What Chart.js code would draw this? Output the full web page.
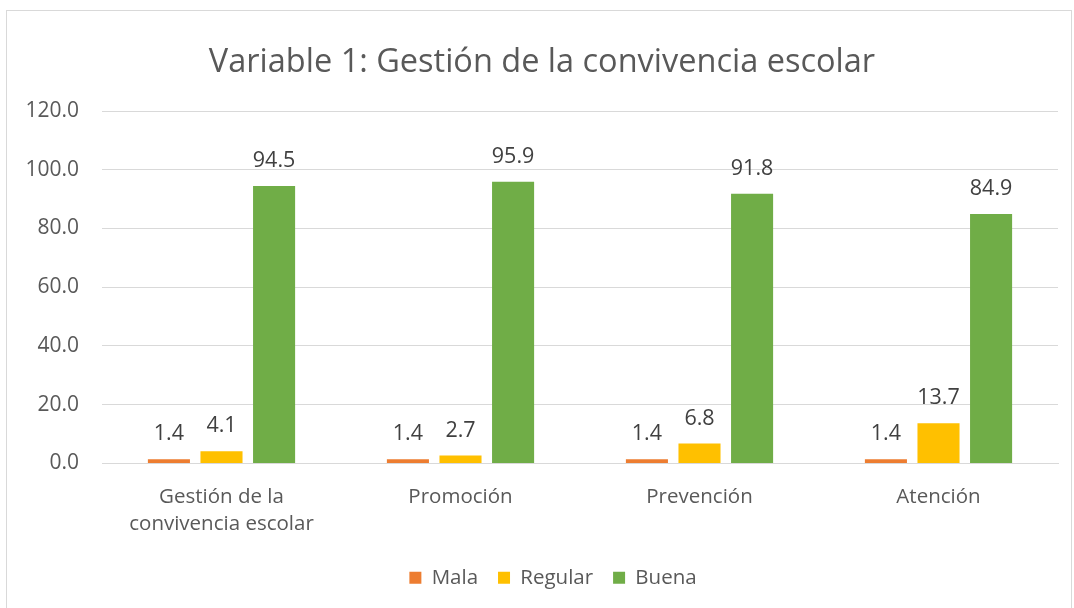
<!DOCTYPE html>
<html>
<head>
<meta charset="utf-8">
<script src="https://cdn.jsdelivr.net/npm/chart.js@4/dist/chart.umd.min.js"></script>
<style>
  body { margin: 0; background: #fff; }
  #caja {
    position: absolute; left: 6px; top: 10px; width: 1064px; height: 598px;
    border: 1px solid #d9d9d9; border-bottom: none; background: #fff;
  }
</style>
</head>
<body>
<div id="caja"><canvas id="grafico" width="1064" height="598"></canvas></div>
<script>
const categorias = [['Gestión de la', 'convivencia escolar'], 'Promoción', 'Prevención', 'Atención'];
const mala = [1.4, 1.4, 1.4, 1.4];
const regular = [4.1, 2.7, 6.8, 13.7];
const buena = [94.5, 95.9, 91.8, 84.9];

const fuente = "'Open Sans', 'Liberation Sans', sans-serif";

// etiquetas encima de cada barra
const etiquetas = {
  id: 'etiquetas',
  afterLayout(chart) {
    // la leyenda del original esta un poco a la derecha
    chart.legend.left += 11;
    chart.legend.right += 11;
  },
  afterDatasetsDraw(chart) {
    const ctx = chart.ctx;
    ctx.save();
    ctx.font = '21.5px ' + fuente;
    ctx.fillStyle = '#404040';
    ctx.textAlign = 'center';
    ctx.textBaseline = 'middle';
    chart.data.datasets.forEach((ds, i) => {
      chart.getDatasetMeta(i).data.forEach((bar, j) => {
        ctx.fillText(ds.data[j].toFixed(1), bar.x, bar.y - 25);
      });
    });
    ctx.restore();
  }
};

new Chart(document.getElementById('grafico'), {
  type: 'bar',
  data: {
    labels: categorias,
    datasets: [
      { label: 'Mala', data: mala, backgroundColor: '#ed7d31' },
      { label: 'Regular', data: regular, backgroundColor: '#ffc000' },
      { label: 'Buena', data: buena, backgroundColor: '#70ad47' }
    ]
  },
  options: {
    responsive: false,
    animation: false,
    layout: { padding: { left: 19, right: 13, top: 32, bottom: 11 } },
    datasets: { bar: { categoryPercentage: 0.66, barPercentage: 0.8 } },
    plugins: {
      title: {
        display: true,
        text: 'Variable 1: Gestión de la convivencia escolar',
        color: '#595959',
        font: { family: fuente, size: 32.5, weight: 'normal' },
        padding: { top: 0, bottom: 29 }
      },
      legend: {
        position: 'bottom',
        labels: {
          color: '#595959',
          font: { family: fuente, size: 20.5 },
          boxWidth: 12, boxHeight: 12, padding: 20
        }
      },
      tooltip: { enabled: false }
    },
    scales: {
      x: {
        grid: { display: false },
        border: { color: '#d9d9d9' },
        ticks: { color: '#595959', font: { family: fuente, size: 20.5, lineHeight: 1.32 }, padding: 12 },
        afterFit(scale) {
          scale.height = scale.height - 2;
        }
      },
      y: {
        min: 0, max: 120,
        ticks: {
          stepSize: 20, color: '#595959', padding: 23,
          font: { family: fuente, size: 21 },
          callback: v => v.toFixed(1)
        },
        grid: { color: '#d9d9d9', drawTicks: false },
        border: { display: false },
        afterFit(scale) {
          scale.width = 76;
        }
      }
    }
  },
  plugins: [etiquetas]
});
</script>
</body>
</html>
